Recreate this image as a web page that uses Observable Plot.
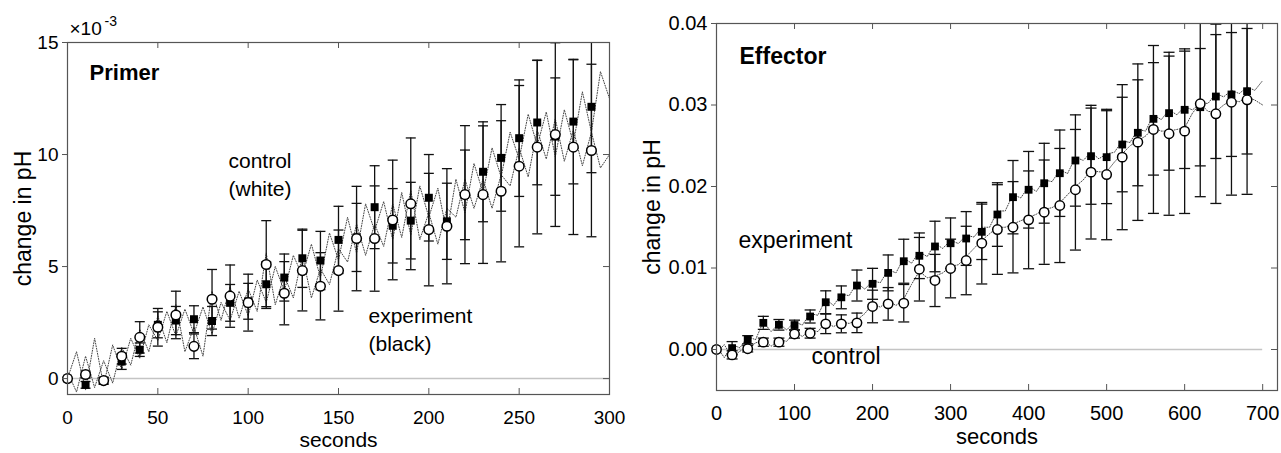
<!DOCTYPE html>
<html><head><meta charset="utf-8">
<script src="https://cdn.jsdelivr.net/npm/d3@7"></script>
<script src="https://cdn.jsdelivr.net/npm/@observablehq/plot@0.6"></script>
<style>
body{margin:0;background:#fff;}
#wrap{position:relative;width:1281px;height:453px;overflow:hidden;background:#fff;}
#left{position:absolute;left:0;top:0;}
#right{position:absolute;left:640px;top:0;}
</style></head><body>
<div id="wrap"><div id="left"></div><div id="right"></div></div>
<script>
// ---------- Primer panel (values in units of 1e-3 pH) ----------
const primerTime = [0,10,20,30,40,50,60,70,80,90,100,110,120,130,140,150,160,170,180,190,200,210,220,230,240,250,260,270,280,290];
const primerExp = [0,-0.28,-0.1,0.76,1.29,2.4,2.59,2.65,2.57,3.38,3.45,4.21,4.51,5.37,5.27,6.19,6.3,7.65,6.82,7.05,8.07,7.02,8.2,9.23,9.85,10.73,11.43,10.8,11.47,12.13];
const primerExpErr = [0,0.15,0.15,0.35,0.3,0.58,0.63,0.6,0.65,0.82,0.8,1.0,1.05,1.3,1.3,1.5,1.52,1.85,1.66,1.71,1.93,1.7,2.0,2.23,2.38,2.6,2.78,2.62,2.78,2.94];
const primerCtrl = [0,0.18,-0.09,1.0,1.84,2.29,2.84,1.44,3.54,3.68,3.39,5.09,3.81,4.82,4.12,4.82,6.25,6.25,7.08,7.8,6.65,6.8,8.21,8.21,8.36,9.48,10.33,10.89,10.33,10.18];
const primerCtrlErr = [0,0.15,0.15,0.35,0.7,0.84,1.06,0.55,1.33,1.39,1.27,1.96,1.41,1.8,1.5,1.81,2.33,2.35,2.67,2.94,2.51,2.57,3.08,3.07,3.15,3.6,3.87,4.1,3.9,3.85];
const primerTraceTime = [0,5,10,15,20,25,30,35,40,45,50,55,60,65,70,75,80,85,90,95,100,105,110,115,120,125,130,135,140,145,150,155,160,165,170,175,180,185,190,195,200,205,210,215,220,225,230,235,240,245,250,255,260,265,270,275,280,285,290,295,300];
const primerTraceExp = [0,1.2,-0.5,1.8,-0.3,1.5,0.4,1.8,0.9,2.4,1.7,3.0,1.9,3.1,2.0,3.2,2.0,3.4,2.6,3.9,2.8,4.4,3.4,5.0,3.9,5.5,4.6,6.0,4.5,6.5,5.3,7.2,5.6,7.8,6.6,7.9,6.2,8.3,6.4,8.6,7.2,8.5,6.5,8.9,7.4,9.6,8.3,10.3,9.0,11.0,9.8,11.8,10.4,11.9,9.9,12.0,10.5,12.8,11.0,13.7,12.5];
const primerTraceCtrl = [0.3,-0.6,1.0,-0.4,0.8,-0.2,1.4,0.6,2.2,1.2,2.8,1.6,3.3,1.2,2.3,1.0,3.9,2.6,4.1,2.7,4.0,3.0,5.6,3.3,4.6,3.6,5.5,3.6,4.9,4.2,5.8,5.2,6.9,5.5,6.9,5.9,7.8,6.3,8.4,6.2,7.4,6.0,7.6,7.2,8.9,7.6,8.9,7.6,9.1,8.6,10.3,9.0,11.1,9.8,11.6,9.7,11.1,9.5,11.0,9.4,10.0];
const primerXTicks = [0,50,100,150,200,250,300];
const primerYTicks = [0,5,10,15];

// ---------- Effector panel (pH) ----------
const effTime = [0,20,40,60,80,100,120,140,160,180,200,220,240,260,280,300,320,340,360,380,400,420,440,460,480,500,520,540,560,580,600,620,640,660,680];
const effExp = [0,0.00017,0.0012,0.00327,0.00303,0.003,0.00405,0.0058,0.0064,0.00785,0.00806,0.0094,0.01083,0.0115,0.01264,0.01304,0.01362,0.01444,0.01656,0.01869,0.0196,0.0204,0.02163,0.02319,0.02372,0.0236,0.02515,0.02659,0.0283,0.029,0.02941,0.02973,0.03104,0.03129,0.03169];
const effExpErr = [0,0.0008,0.0005,0.0008,0.00065,0.0006,0.0008,0.0014,0.0014,0.0019,0.0019,0.0022,0.0027,0.0028,0.0031,0.0031,0.0033,0.0034,0.0039,0.0045,0.0047,0.0049,0.0053,0.0056,0.0059,0.0057,0.0058,0.0065,0.0069,0.007,0.0072,0.0072,0.0076,0.0076,0.0077];
const effCtrl = [0,-0.00066,0.0001,0.0009,0.0009,0.0019,0.002,0.00315,0.00315,0.00327,0.00528,0.0056,0.00568,0.00985,0.00847,0.00994,0.01092,0.01304,0.01472,0.015,0.01591,0.01685,0.01767,0.0196,0.02176,0.02147,0.0236,0.02544,0.027,0.02647,0.02679,0.03015,0.02892,0.03034,0.03064];
const effCtrlErr = [0,0.0005,0.0004,0.0005,0.0005,0.0005,0.0006,0.0012,0.0011,0.0012,0.002,0.002,0.0023,0.0039,0.0032,0.0036,0.0042,0.005,0.0055,0.0056,0.006,0.0064,0.007,0.0074,0.0082,0.008,0.0089,0.0096,0.0103,0.01,0.0101,0.0114,0.011,0.0114,0.0116];
const effTraceTime = [0,10,20,30,40,50,60,70,80,90,100,110,120,130,140,150,160,170,180,190,200,210,220,230,240,250,260,270,280,290,300,310,320,330,340,350,360,370,380,390,400,410,420,430,440,450,460,470,480,490,500,510,520,530,540,550,560,570,580,590,600,610,620,630,640,650,660,670,680,690,700];
const effTraceExp = [0.0004,-0.001,0.0006,0.0002,0.0016,0.0012,0.0034,0.0022,0.0032,0.0024,0.0034,0.003,0.0044,0.0042,0.0062,0.0054,0.0068,0.0066,0.0082,0.0074,0.0084,0.0082,0.0098,0.0094,0.0112,0.0106,0.012,0.0114,0.013,0.0124,0.0134,0.013,0.014,0.0138,0.015,0.015,0.017,0.017,0.019,0.0186,0.02,0.0194,0.0208,0.0206,0.022,0.0216,0.0236,0.0232,0.0242,0.0234,0.024,0.0242,0.0256,0.0254,0.027,0.0268,0.0288,0.0282,0.0294,0.0288,0.0298,0.0294,0.0302,0.0302,0.0314,0.031,0.0318,0.0314,0.0322,0.0318,0.033];
const effTraceCtrl = [-0.0004,0.0006,-0.001,-0.0002,0.0002,0.0008,0.0012,0.0004,0.0012,0.001,0.0022,0.0016,0.0024,0.0022,0.0034,0.0028,0.0034,0.0032,0.0036,0.0044,0.0056,0.0052,0.006,0.0054,0.0062,0.008,0.0096,0.0088,0.009,0.0094,0.0102,0.0104,0.0114,0.0124,0.0134,0.0142,0.015,0.015,0.0154,0.0158,0.0162,0.0166,0.0172,0.0174,0.018,0.019,0.02,0.0208,0.022,0.0218,0.0218,0.023,0.024,0.025,0.0256,0.0262,0.0272,0.0268,0.0268,0.027,0.0272,0.029,0.0302,0.0292,0.0292,0.03,0.0306,0.0304,0.031,0.0306,0.03];
const effXTicks = [0,100,200,300,400,500,600,700];
const effYTicks = [0,0.01,0.02,0.03,0.04];

// ---------- text ----------
const yLabel = "change in pH";
const xLabel = "seconds";
const primerTitle = "Primer";
const effTitle = "Effector";
const primerNotes = ["control\n(white)", "experiment\n(black)"];
const effNotes = ["experiment", "control"];

const FONT = '"Liberation Sans", Arial, sans-serif';
const AX = "#555";
const capSymbol = {draw(ctx, size){ const w = Math.sqrt(size / Math.PI); ctx.moveTo(-w, 0); ctx.lineTo(w, 0); }};

function rows(t, e, ee, c, ce){ return t.map((v,i)=>({t:v, exp:e[i], expErr:ee[i], ctrl:c[i], ctrlErr:ce[i]})); }
function trace(t, e, c){ return t.map((v,i)=>({t:v, exp:e[i], ctrl:c[i]})); }

function errMarks(data, key, errKey, capR){
  const d = data.filter(r => r[errKey] > 0);
  const common = {stroke:"#111", strokeWidth:1.3, clip:true};
  return [
    Plot.ruleX(d, {x:"t", y1:r=>r[key]-r[errKey], y2:r=>r[key]+r[errKey], ...common}),
    Plot.dot(d, {x:"t", y:r=>r[key]+r[errKey], symbol:capSymbol, r:capR, fill:"none", ...common}),
    Plot.dot(d, {x:"t", y:r=>r[key]-r[errKey], symbol:capSymbol, r:capR, fill:"none", ...common})
  ];
}

function panel(cfg){
  const fh = cfg.height - cfg.mt - cfg.mb;
  const fw = cfg.width - cfg.ml - cfg.mr;
  const data = cfg.data, tr = cfg.trace;
  return Plot.plot({
    width: cfg.width, height: cfg.height,
    marginLeft: cfg.ml, marginRight: cfg.mr, marginTop: cfg.mt, marginBottom: cfg.mb,
    style: {fontFamily: FONT, fontSize: cfg.tickFont + "px", color: "#000", background: "#fff", overflow: "visible"},
    x: {domain: cfg.xDomain}, y: {domain: cfg.yDomain},
    marks: [
      Plot.ruleY([0], {x1: cfg.xDomain[0], x2: cfg.baseEnd, stroke: "#c4c4c4", strokeWidth: 1.5}),
      Plot.line(tr, {x:"t", y:"exp", stroke:"#444", strokeWidth:1, strokeDasharray:"1,1.6", clip:true}),
      Plot.line(tr, {x:"t", y:"ctrl", stroke:"#444", strokeWidth:1, strokeDasharray:"1,1.6", clip:true}),
      ...errMarks(data, "exp", "expErr", cfg.capR),
      ...errMarks(data, "ctrl", "ctrlErr", cfg.capR),
      Plot.dot(data, {x:"t", y:"exp", symbol:"square", fill:"#000", r:cfg.sq}),
      Plot.dot(data, {x:"t", y:"ctrl", r:cfg.circ, fill:"#fff", stroke:"#000", strokeWidth:1.5}),
      Plot.frame({stroke: AX, strokeWidth: 1.2}),
      Plot.tickX(cfg.xTicks, {x:d=>d, insetTop: fh - 6, stroke: AX}),
      Plot.tickX(cfg.xTicks, {x:d=>d, insetBottom: fh - 6, stroke: AX}),
      Plot.tickY(cfg.yTicks, {y:d=>d, insetLeft: fw - 6, stroke: AX}),
      Plot.axisY({ticks: cfg.yTicks, tickSize: 5, tickPadding: 4, label: null, stroke: AX, fontSize: cfg.tickFont, tickFormat: cfg.yFormat}),
      Plot.axisX({ticks: cfg.xTicks, tickSize: 0, tickPadding: cfg.xPad, label: null, fontSize: cfg.tickFont, tickFormat: d=>String(d)}),
      Plot.text([yLabel], {frameAnchor:"left", text:d=>d, rotate:-90, dx:cfg.yLabDx, lineAnchor:"top", textAnchor:"middle", fontSize:cfg.yLabFont}),
      Plot.text([xLabel], {frameAnchor:"bottom", text:d=>d, dy:cfg.xLabDy, lineAnchor:"middle", textAnchor:"middle", fontSize:cfg.labFont}),
      ...cfg.extra
    ]
  });
}

const primerRows = rows(primerTime, primerExp, primerExpErr, primerCtrl, primerCtrlErr);
const effRows = rows(effTime, effExp, effExpErr, effCtrl, effCtrlErr);

const leftSvg = panel({
  width: 630, height: 453, ml: 67, mr: 21, mt: 42, mb: 59,
  xDomain: [0, 300], yDomain: [-0.71, 15], baseEnd: 300,
  data: primerRows, trace: trace(primerTraceTime, primerTraceExp, primerTraceCtrl),
  xTicks: primerXTicks, yTicks: primerYTicks, yFormat: d=>String(d),
  tickFont: 19, labFont: 21, yLabFont: 23, xPad: 16, yLabDx: -53, xLabDy: 46, capR: 5, sq: 4.5, circ: 4.8,
  extra: [
    Plot.text([primerTitle], {x: 12.2, y: 13.62, text:d=>d, textAnchor:"start", lineAnchor:"middle", fontWeight:"bold", fontSize:22}),
    Plot.text([primerNotes[0]], {x: 89.1, y: 9.69, text:d=>d, textAnchor:"start", lineAnchor:"top", dy:-14, lineHeight:1.35, fontSize:21}),
    Plot.text([primerNotes[1]], {x: 166.6, y: 2.74, text:d=>d, textAnchor:"start", lineAnchor:"top", dy:-14, lineHeight:1.33, fontSize:21}),
    Plot.text(["×10"], {frameAnchor:"top-left", text:d=>d, dx:2, dy:-14, textAnchor:"start", lineAnchor:"middle", fontSize:19}),
    Plot.text(["-3"], {frameAnchor:"top-left", text:d=>d, dx:37, dy:-21, textAnchor:"start", lineAnchor:"middle", fontSize:14})
  ]
});

const rightSvg = panel({
  width: 641, height: 453, ml: 76, mr: 4, mt: 23, mb: 63,
  xDomain: [0, 719], yDomain: [-0.00503, 0.04], baseEnd: 700,
  data: effRows, trace: trace(effTraceTime, effTraceExp, effTraceCtrl),
  xTicks: effXTicks, yTicks: effYTicks, yFormat: d3.format(".2f"),
  tickFont: 20, labFont: 22, yLabFont: 23, xPad: 15, yLabDx: -73, xLabDy: 46, capR: 5.5, sq: 4.4, circ: 4.7,
  extra: [
    Plot.text([effTitle], {x: 29.5, y: 0.03597, text:d=>d, textAnchor:"start", lineAnchor:"middle", fontWeight:"bold", fontSize:23}),
    Plot.text([effNotes[0]], {x: 28.2, y: 0.01337, text:d=>d, textAnchor:"start", lineAnchor:"middle", fontSize:23}),
    Plot.text([effNotes[1]], {x: 121.8, y: -0.00092, text:d=>d, textAnchor:"start", lineAnchor:"middle", fontSize:23})
  ]
});

document.getElementById("left").appendChild(leftSvg);
document.getElementById("right").appendChild(rightSvg);
</script>
</body></html>
